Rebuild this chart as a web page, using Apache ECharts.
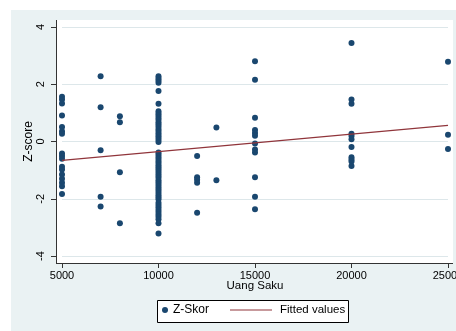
<!DOCTYPE html>
<html>
<head>
<meta charset="utf-8">
<script src="https://cdn.jsdelivr.net/npm/echarts@6/dist/echarts.min.js"></script>
<style>
html,body{margin:0;padding:0;background:#fff;}
#chart{width:456px;height:331px;}
</style>
</head>
<body>
<div id="chart"></div>
<script>
// ---- data ----
const xTickValues = [5000, 10000, 15000, 20000, 25000];
const yTickValues = [-4, -2, 0, 2, 4];
const uangSakuLevels = [5000, 7000, 8000, 10000, 12000, 13000, 15000, 20000, 25000];
const z5000 = [1.56, 1.47, 1.33, 0.91, 0.51, 0.36, 0.27, -0.42, -0.51, -0.6, -0.88, -0.98, -1.15, -1.3, -1.44, -1.56, -1.83];
const z7000 = [2.28, 1.2, -0.31, -1.93, -2.27];
const z8000 = [0.88, 0.67, -1.07, -2.86];
const z10000 = [2.28, 2.2, 2.13, 2.05, 1.76, 1.32, 1.06, 0.98, 0.91, 0.83, 0.76, 0.67, 0.6, 0.52, 0.44, 0.37, 0.29, 0.21, 0.14, 0.06, -0.02,
  -0.38, -0.45, -0.53, -0.6, -0.68, -0.75, -0.83, -0.9, -0.97, -1.05, -1.13, -1.2, -1.27, -1.35, -1.42, -1.5, -1.58, -1.65, -1.72,
  -1.8, -1.88, -1.95, -2.02, -2.14, -2.22, -2.3, -2.38, -2.46, -2.55, -2.63, -2.72, -2.86, -3.21];
const z12000 = [-0.51, -1.25, -1.34, -1.44, -2.49];
const z13000 = [0.49, -1.35];
const z15000 = [2.8, 2.16, 0.83, 0.4, 0.3, 0.2, -0.07, -0.28, -0.38, -1.25, -1.93, -2.37];
const z20000 = [3.44, 1.47, 1.32, 0.27, 0.19, 0.08, -0.19, -0.55, -0.63, -0.7, -0.86];
const z25000 = [2.79, 0.24, -0.26];
const zByLevel = [z5000, z7000, z8000, z10000, z12000, z13000, z15000, z20000, z25000];
const fittedX = [5000, 25000];
const fittedY = [-0.66, 0.56];

// ---- build series data ----
const scatterData = [];
uangSakuLevels.forEach((x, i) => zByLevel[i].forEach(z => scatterData.push([x, z])));
const fittedData = fittedX.map((x, i) => [x, fittedY[i]]);

const FONT = '"Liberation Sans", Arial, sans-serif';
const NAVY = '#1a476f';
const MAROON = '#90353b';
const BG = '#eaf2f3';

const chart = echarts.init(document.getElementById('chart'), null, {renderer: 'canvas'});
chart.setOption({
  animation: false,
  backgroundColor: '#ffffff',
  textStyle: {fontFamily: FONT},
  graphic: [
    {type: 'rect', z: -100, shape: {x: 11, y: 10, width: 445, height: 321}, style: {fill: BG}, silent: true},
    {type: 'rect', z: -90, shape: {x: 56, y: 20, width: 397, height: 243}, style: {fill: '#ffffff'}, silent: true},
    {type: 'line', z: 50, shape: {x1: 56.5, y1: 20, x2: 56.5, y2: 263.5}, style: {stroke: '#333', lineWidth: 1}, silent: true},
    {type: 'line', z: 50, shape: {x1: 56, y1: 263.5, x2: 453, y2: 263.5}, style: {stroke: '#333', lineWidth: 1}, silent: true},
    {type: 'rect', z: 1, shape: {x: 157.5, y: 300.5, width: 191, height: 22}, style: {fill: '#ffffff', stroke: '#000', lineWidth: 1}, silent: true}
  ],
  grid: {left: 62, right: 8, top: 27, bottom: 75, containLabel: false, outerBoundsMode: 'none'},
  xAxis: {
    type: 'value', min: 5000, max: 25000, interval: 5000, offset: 7, position: 'bottom',
    name: 'Uang Saku', nameLocation: 'middle', nameGap: 17, nameMoveOverlap: false,
    nameTextStyle: {fontSize: 11.5, color: '#000', fontFamily: FONT},
    axisLine: {show: false, onZero: false},
    axisTick: {show: true, length: 5, lineStyle: {color: '#333'}},
    axisLabel: {margin: 7, fontSize: 11, color: '#000', fontFamily: FONT, formatter: v => String(v), hideOverlap: false},
    splitLine: {show: false}
  },
  yAxis: {
    type: 'value', min: yTickValues[0], max: yTickValues[yTickValues.length - 1], interval: 2, offset: 6, position: 'left',
    name: 'Z-score', nameLocation: 'middle', nameGap: 21, nameMoveOverlap: false,
    nameTextStyle: {fontSize: 12, color: '#000', fontFamily: FONT},
    axisLine: {show: false, onZero: false},
    axisTick: {show: true, length: 5, lineStyle: {color: '#333'}},
    axisLabel: {rotate: 90, margin: 10, fontSize: 11, color: '#000', fontFamily: FONT, formatter: v => String(v)},
    splitLine: {show: true, lineStyle: {color: '#dde7ea', width: 1}}
  },
  legend: [
    {data: [{name: 'Z-Skor', icon: 'circle'}], left: 162, top: 304, itemWidth: 6, itemHeight: 6, padding: 0,
     textStyle: {fontSize: 12, color: '#000', fontFamily: FONT}},
    {data: [{name: 'Fitted values', icon: 'rect'}], left: 230, top: 304, itemWidth: 42, itemHeight: 1.2, padding: 0,
     textStyle: {fontSize: 11.5, color: '#000', fontFamily: FONT, padding: [0, 0, 0, 3]}}
  ],
  series: [
    {name: 'Z-Skor', type: 'scatter', data: scatterData, symbol: 'circle', symbolSize: 6,
     itemStyle: {color: NAVY, opacity: 1}, z: 3},
    {name: 'Fitted values', type: 'line', data: fittedData, symbol: 'none',
     lineStyle: {color: MAROON, width: 1.2}, itemStyle: {color: MAROON}, z: 4}
  ]
});
</script>
</body>
</html>
